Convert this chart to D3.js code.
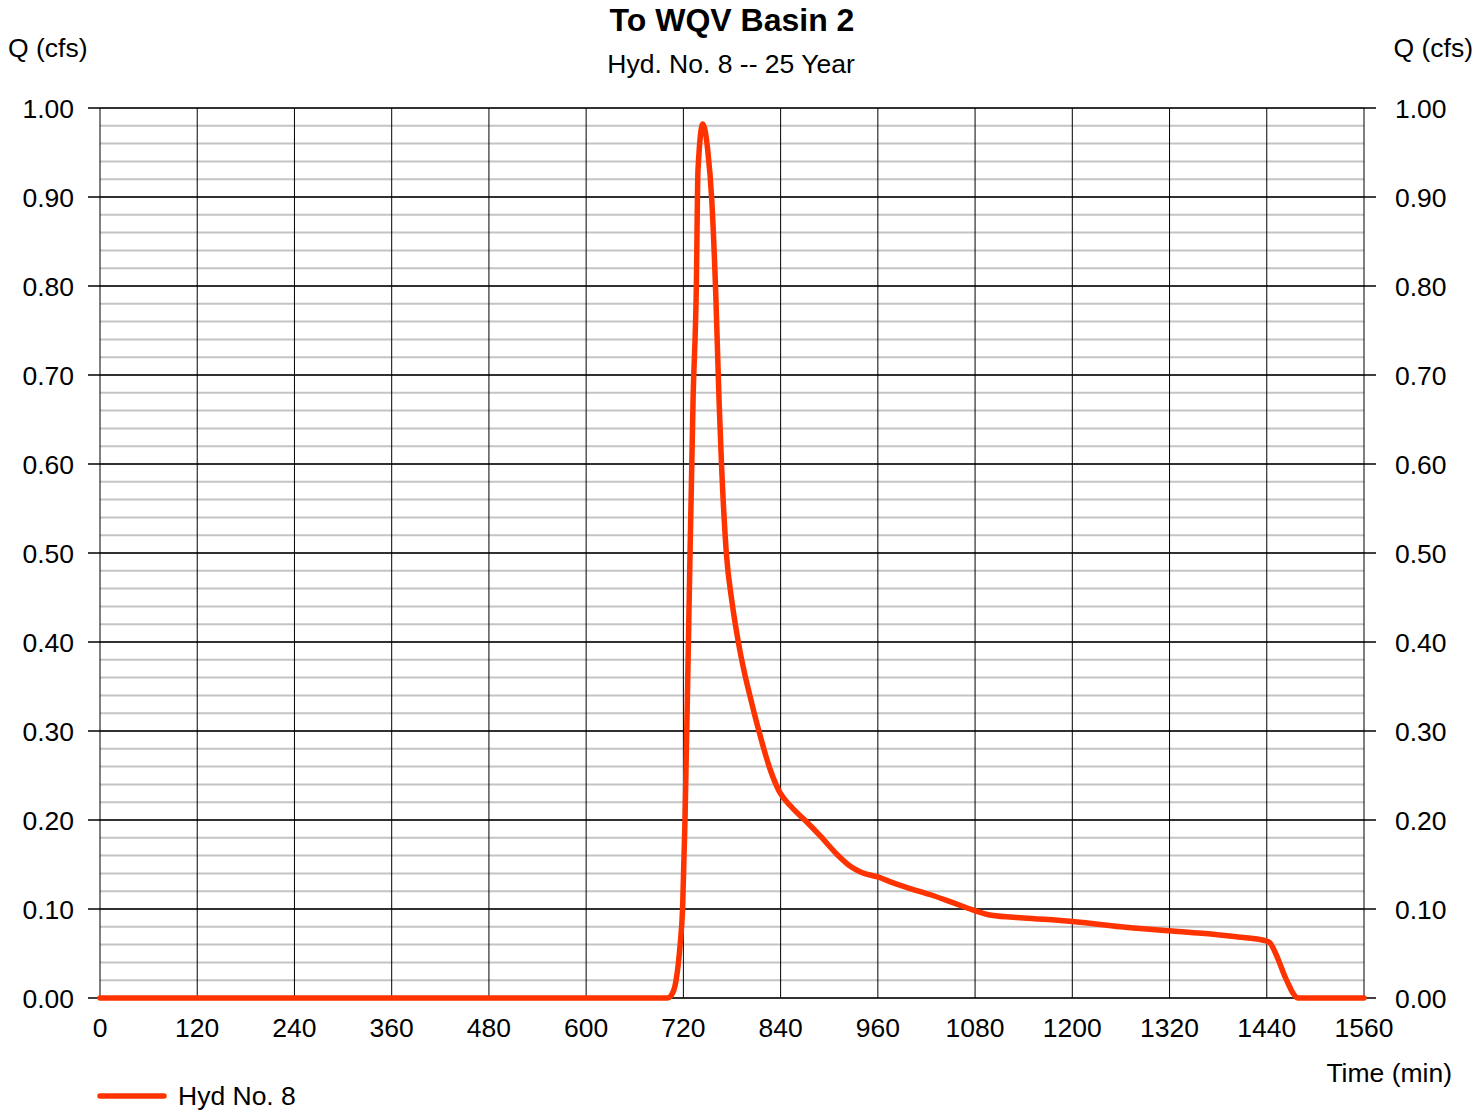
<!DOCTYPE html>
<style>
    body { margin: 0; background: #fff; }
    svg text { font-family: 'Liberation Sans', Arial, sans-serif; fill: #000; }
</style>
<svg width="1475" height="1110"></svg>
<script src="https://d3js.org/d3.v7.min.js"></script>
<script>
    // hydrograph data (min, cfs)
    var times = [0, 700, 705, 711, 716, 719, 722, 727, 732, 736, 738, 744, 750, 755, 760, 764, 767, 773, 780, 788,
        795, 802, 815, 827, 839, 852, 872, 890, 910, 926, 940, 960, 980, 1000, 1025, 1050, 1077, 1100, 1140, 1200,
        1260, 1320, 1360, 1400, 1440, 1444, 1450, 1456, 1462, 1466, 1472, 1478, 1560];
    var flows = [0, 0, 0.003, 0.02, 0.06, 0.10, 0.20, 0.44, 0.674, 0.80, 0.93, 0.982, 0.953, 0.897, 0.79, 0.672,
        0.601, 0.50, 0.445, 0.399, 0.367, 0.340, 0.294, 0.257, 0.231, 0.216, 0.198, 0.181, 0.161, 0.148, 0.141,
        0.136, 0.129, 0.123, 0.116, 0.108, 0.099, 0.093, 0.090, 0.086, 0.080, 0.0755, 0.0727, 0.069, 0.064, 0.062,
        0.052, 0.039, 0.025, 0.017, 0.006, 0, 0];
    var xTicks = [0, 120, 240, 360, 480, 600, 720, 840, 960, 1080, 1200, 1320, 1440, 1560];
    var yTicks = [0, 0.1, 0.2, 0.3, 0.4, 0.5, 0.6, 0.7, 0.8, 0.9, 1.0];
    var yMinor = d3.range(0, 1.0001, 0.02);

    var svg = d3.select("svg");
    var plotLeft = 100, plotRight = 1364, plotTop = 108, plotBottom = 998;
    var fs = "26.5px";

    var x = d3.scaleLinear().domain([0, 1560]).range([plotLeft, plotRight]);
    var y = d3.scaleLinear().domain([0, 1]).range([plotBottom, plotTop]);

    // minor horizontal grid
    svg.append("g").selectAll("line").data(yMinor).enter().append("line")
        .attr("x1", plotLeft).attr("x2", plotRight)
        .attr("y1", function(d) { return y(d); }).attr("y2", function(d) { return y(d); })
        .attr("stroke", "#c4c4c4").attr("stroke-width", 2);

    // vertical grid
    svg.append("g").selectAll("line").data(xTicks).enter().append("line")
        .attr("x1", function(d) { return x(d); }).attr("x2", function(d) { return x(d); })
        .attr("y1", plotTop).attr("y2", plotBottom)
        .attr("stroke", "#000").attr("stroke-width", 1);

    // major horizontal grid with ticks on both sides
    svg.append("g").selectAll("line").data(yTicks).enter().append("line")
        .attr("x1", plotLeft - 12).attr("x2", plotRight + 12)
        .attr("y1", function(d) { return y(d); }).attr("y2", function(d) { return y(d); })
        .attr("stroke", "#000").attr("stroke-width", 1.3);

    // left axis labels
    svg.append("g").selectAll("text").data(yTicks).enter().append("text")
        .attr("x", 74).attr("y", function(d) { return y(d); })
        .attr("dy", "0.36em").attr("text-anchor", "end")
        .style("font-size", fs)
        .text(d3.format(".2f"));

    // right axis labels
    svg.append("g").selectAll("text").data(yTicks).enter().append("text")
        .attr("x", 1395).attr("y", function(d) { return y(d); })
        .attr("dy", "0.36em").attr("text-anchor", "start")
        .style("font-size", fs)
        .text(d3.format(".2f"));

    // x axis labels
    svg.append("g").selectAll("text").data(xTicks).enter().append("text")
        .attr("x", function(d) { return x(d); }).attr("y", 1037)
        .attr("text-anchor", "middle")
        .style("font-size", fs)
        .text(function(d) { return d; });

    // hydrograph line
    var line = d3.line()
        .x(function(d, i) { return x(times[i]); })
        .y(function(d) { return y(d); })
        .curve(d3.curveMonotoneX);

    svg.append("path")
        .datum(flows)
        .attr("d", line)
        .attr("fill", "none")
        .attr("stroke", "#ff3300")
        .attr("stroke-width", 5.5)
        .attr("stroke-linejoin", "round")
        .attr("stroke-linecap", "round");

    // titles
    svg.append("text").attr("x", 732).attr("y", 31).attr("text-anchor", "middle")
        .style("font-size", "32px").style("font-weight", "bold").text("To WQV Basin 2");
    svg.append("text").attr("x", 731).attr("y", 73).attr("text-anchor", "middle")
        .style("font-size", fs).text("Hyd. No. 8 -- 25 Year");
    svg.append("text").attr("x", 8).attr("y", 57)
        .style("font-size", fs).text("Q (cfs)");
    svg.append("text").attr("x", 1473).attr("y", 57).attr("text-anchor", "end")
        .style("font-size", fs).text("Q (cfs)");
    svg.append("text").attr("x", 1452).attr("y", 1082).attr("text-anchor", "end")
        .style("font-size", fs).text("Time (min)");

    // legend
    svg.append("line").attr("x1", 100).attr("x2", 164).attr("y1", 1096).attr("y2", 1096)
        .attr("stroke", "#ff3300").attr("stroke-width", 5.5).attr("stroke-linecap", "round");
    svg.append("text").attr("x", 178).attr("y", 1105)
        .style("font-size", fs).text("Hyd No. 8");
</script>
